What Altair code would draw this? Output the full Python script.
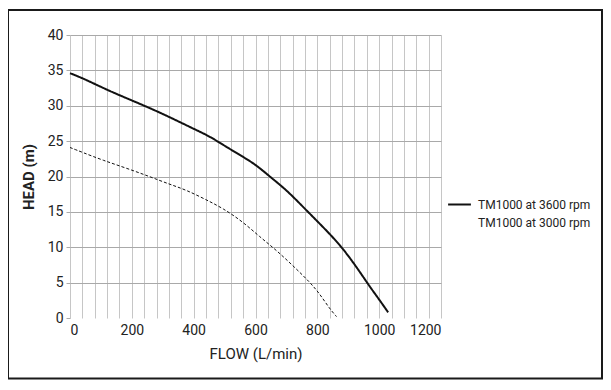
import altair as alt
import pandas as pd

# Pump curves
flow_3600 = [0, 41, 117, 181, 257, 322, 397, 451, 505, 559, 603, 646, 700, 754, 797, 840, 883, 927, 970, 1002, 1029]
head_3600 = [34.6, 33.9, 32.3, 31.1, 29.7, 28.4, 26.8, 25.7, 24.2, 22.8, 21.6, 20.0, 18.1, 15.7, 13.8, 11.9, 9.8, 7.2, 4.4, 2.5, 0.8]

flow_3000 = [0, 41, 106, 181, 257, 322, 376, 441, 495, 559, 613, 667, 721, 775, 808, 840, 862]
head_3000 = [24.1, 23.4, 22.3, 21.2, 20.0, 18.9, 18.1, 16.7, 15.5, 13.6, 11.5, 9.6, 7.4, 5.1, 3.4, 1.3, 0.2]

series_names = ["TM1000 at 3600 rpm", "TM1000 at 3000 rpm"]
x_ticks = list(range(0, 1201, 40))
y_ticks = list(range(0, 41, 5))

rows = []
for i, (f, h) in enumerate(zip(flow_3600, head_3600)):
    rows.append({"flow": f, "head": h, "series": series_names[0], "order": i})
for i, (f, h) in enumerate(zip(flow_3000, head_3000)):
    rows.append({"flow": f, "head": h, "series": series_names[1], "order": i})
df = pd.DataFrame(rows)

FONT = "Roboto"

lines = alt.Chart(df).mark_line(interpolate="basis", color="#111").encode(
    x=alt.X(
        "flow:Q",
        scale=alt.Scale(domain=[0, 1200], nice=False),
        axis=alt.Axis(
            title="FLOW (L/min)",
            values=x_ticks,
            labelExpr="datum.value % 200 == 0 ? datum.label : ''",
            ticks=False,
            domain=False,
            grid=True,
            gridColor="#c6c6c6",
            gridWidth=1,
            labelPadding=5,
            labelFontSize=14,
            labelColor="#222",
            labelFont=FONT,
            titleFont=FONT,
            titleFontSize=15,
            titleFontWeight="normal",
            titleColor="#222",
            titlePadding=9,
            format="d",
        ),
    ),
    y=alt.Y(
        "head:Q",
        scale=alt.Scale(domain=[0, 40], nice=False),
        axis=alt.Axis(
            title="HEAD (m)",
            values=y_ticks,
            domain=False,
            ticks=True,
            tickSize=4,
            tickColor="#aaaaaa",
            grid=True,
            gridColor="#a9a9a9",
            gridOpacity={"condition": {"test": "datum.value === 0", "value": 0}, "value": 1},
            labelPadding=3,
            labelFontSize=14,
            labelColor="#222",
            labelFont=FONT,
            titleFont=FONT,
            titleFontSize=15,
            titleFontWeight="bold",
            titleColor="#222",
            titlePadding=11,
        ),
    ),
    strokeDash=alt.StrokeDash(
        "series:N",
        scale=alt.Scale(domain=series_names, range=[[1, 0], [3, 2]]),
        legend=alt.Legend(
            title=None,
            orient="none",
            legendX=377,
            legendY=157,
            symbolType="stroke",
            symbolSize=520,
            symbolStrokeWidth=1,
            symbolStrokeColor="#111",
            symbolOpacity={"expr": "datum.value == 'TM1000 at 3000 rpm' ? 0 : 1"},
            labelFont=FONT,
            labelFontSize=12,
            labelColor="#222",
            rowPadding=-3,
            labelOffset=6,
        ),
    ),
    strokeWidth=alt.StrokeWidth(
        "series:N",
        scale=alt.Scale(domain=series_names, range=[2, 1]),
        legend=None,
    ),
    order="order:Q",
)

frame = alt.Chart(pd.DataFrame({"a": [0]})).mark_rect(
    fillOpacity=0, stroke="#1a1a1a", strokeWidth=2
).encode(
    x=alt.value(-62),
    x2=alt.value(532),
    y=alt.value(-25),
    y2=alt.value(343.5),
)

chart = alt.layer(lines, frame).properties(
    width=371,
    height=283,
    autosize=alt.AutoSizeParams(type="none"),
    padding={"left": 62, "top": 27, "right": 162, "bottom": 64},
    background="white",
).configure_view(stroke=None)

chart.save("out.html", embed_options={"renderer": "svg", "actions": False})
